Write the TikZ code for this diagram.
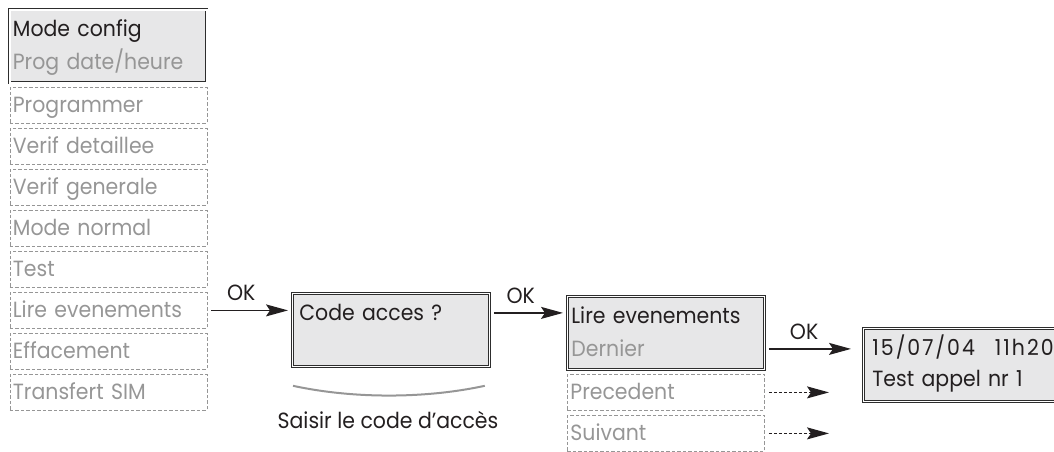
\documentclass[tikz,border=0pt]{standalone}
\usepackage{fontspec}
\setmainfont[FakeStretch=0.93]{Poppins}
\usetikzlibrary{arrows.meta}
\definecolor{lcdfill}{RGB}{231,231,232}
\definecolor{lcdline}{RGB}{45,45,45}
\definecolor{menugray}{RGB}{150,150,150}
\definecolor{inkblack}{RGB}{35,31,32}
\tikzset{
  lcd/.style={draw=lcdline, line width=0.8pt, double=white, double distance=1.3pt,
    fill=lcdfill, anchor=north west, text width=189pt, minimum height=73pt,
    inner xsep=4pt, inner ysep=0pt, align=left, text=inkblack},
  menu/.style={draw=menugray, line width=0.8pt, dash pattern=on 3.5pt off 2pt,
    anchor=north west, text width=191pt, minimum height=36pt,
    inner xsep=3pt, inner ysep=0pt, align=left, text=menugray},
  arr/.style={-{Stealth[length=22pt,width=12pt,inset=4pt]}, line width=1.3pt,
    draw=inkblack, shorten <=4pt, shorten >=4pt},
  darr/.style={arr, dash pattern=on 3pt off 2pt},
  oklab/.style={above=9pt, inner sep=0pt, text=inkblack, pos=.4},
}
\begin{document}
\begin{tikzpicture}[x=1pt, y=-1pt, font=\fontsize{22}{33}\selectfont]
      \useasboundingbox (0,0) rectangle (1054,452);
      \draw
        (9.5,9.5) node[lcd, inner xsep=3pt, text width=191pt] (mode){\strut Mode config\\\textcolor{menugray}{\strut Prog date/heure}}
        (9.5,87) node[menu] (prog){\strut Programmer}
        (9.5,128) node[menu] (verifd){\strut Verif detaillee}
        (9.5,169) node[menu] (verifg){\strut Verif generale}
        (9.5,210) node[menu] (normal){\strut Mode normal}
        (9.5,251) node[menu] (test){\strut Test}
        (9.5,292) node[menu] (lire){\strut Lire evenements}
        (9.5,333) node[menu] (eff){\strut Effacement}
        (9.5,374) node[menu] (sim){\strut Transfert SIM}
        (292,293) node[lcd, inner xsep=7pt, text width=183pt] (code){\strut Code acces ?\\\strut}
        (388,428) node[anchor=base, text=inkblack] (hint){Saisir le code d’accès}
        (567,296) node[lcd] (evt){\strut Lire evenements\\\textcolor{menugray}{\strut Dernier}}
        (567,374) node[menu] (prec){\strut Precedent}
        (567,415) node[menu] (suiv){\strut Suivant}
        (863,328) node[lcd, inner xsep=9pt, text width=200pt, font=\fontsize{22}{31}\selectfont] (res){\strut{\addfontfeature{LetterSpace=9}15/07/04\hspace{20pt}11h20}\\\strut Test appel nr 1};
      \coordinate (arcL) at ([xshift=1pt,yshift=-19pt]code.south west);
      \coordinate (arcR) at ([xshift=-5pt,yshift=-19pt]code.south east);
      \coordinate (stop) at (833,0);
      \draw[menugray, line width=2pt] (arcL) .. controls +(60,13) and +(-60,13) .. (arcR);
      \begin{scope}[arr]
        \draw (lire.east) -- node[oklab]{OK} (lire.east -| code.west);
        \draw ([yshift=17pt]code.east) coordinate (c2) -- node[oklab]{OK} (c2 -| evt.west);
        \draw[shorten >=12pt] ([yshift=-16pt]evt.east) coordinate (c3) -- node[oklab]{OK} (c3 -| res.west);
        \draw[darr] (prec.east) -- (prec.east -| stop);
        \draw[darr] (suiv.east) -- (suiv.east -| stop);
      \end{scope}
    \end{tikzpicture}
\end{document}
